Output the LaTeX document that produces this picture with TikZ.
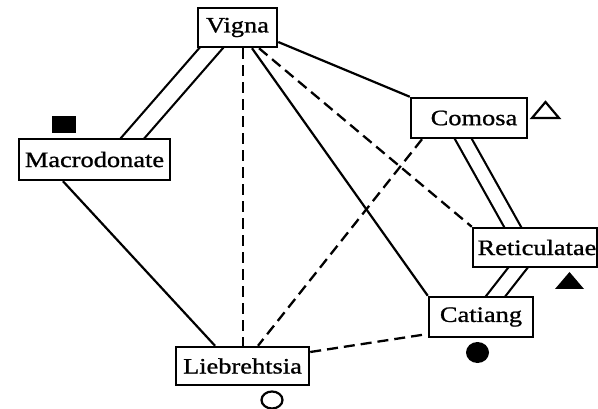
\documentclass[tikz,border=0pt]{standalone}
\usepackage{fontspec}
\setmainfont{Liberation Serif}[FakeStretch=1.2, FakeBold=1]
\usetikzlibrary{backgrounds}
\begin{document}
\begin{tikzpicture}[x=1pt,y=-1pt,
  box/.style={draw, line width=2.5pt, fill=white, inner sep=0pt,
    font=\fontsize{22}{26}\selectfont},
  solidedge/.style={line width=2.2pt},
  dashedge/.style={line width=2.3pt, dash pattern=on 11pt off 6pt},
  dbl/.style={line width=2.2pt, double=white, double distance=#1,
    shorten <=-10pt, shorten >=-10pt},
  symline/.style={line width=2.2pt}
]
\useasboundingbox (0,0) rectangle (598,409);

\node[box, minimum width=79pt,  minimum height=39pt] (V) at (237.5,27.5) {Vigna};
\node[box, minimum width=151pt, minimum height=41pt] (M) at (94.5,159.5) {Macrodonate};
\node[box, minimum width=116pt, minimum height=40pt] (C) at (469,118) {\hspace*{10pt}Comosa};
\node[box, minimum width=124pt, minimum height=39pt] (R) at (535,247.5) {\hspace*{4pt}Reticulatae};
\node[box, minimum width=104pt, minimum height=40pt] (T) at (481,317) {Catiang};
\node[box, minimum width=133pt, minimum height=38pt] (L) at (242.5,366) {Liebrehtsia};

\begin{scope}[on background layer]
  \fill[white] (0,0) rectangle (598,409);
  % double connectors
  \draw[dbl=15.5pt] ([xshift=-26.5pt]V.south) -- ([xshift=38.5pt]M.north);
  \draw[dbl=12.5pt] ([xshift=-5.5pt]C.south) -- ([xshift=-22.5pt]R.north);
  \draw[dbl=13pt] ([xshift=-17.5pt]R.south) -- ([xshift=15pt]T.north);
  % solid connectors
  \draw[solidedge] ([yshift=-14.5pt]V.east) -- (C.north west);
  \draw[solidedge] ([xshift=14.5pt]V.south) -- (T.north west);
  \draw[solidedge] ([xshift=-31.5pt]M.south) -- ([xshift=-27.5pt]L.north);
  % dashed connectors
  \draw[dashedge] ([xshift=5.5pt]V.south) -- ([xshift=0.5pt]L.north);
  \draw[dashedge] ([xshift=21.5pt]V.south) -- (R.north west);
  \draw[dashedge] ([xshift=-47pt]C.south) -- ([xshift=15.5pt]L.north);
  \draw[dashedge] ([yshift=14pt]L.east) -- ([yshift=-17pt]T.west);
\end{scope}

% group symbols
\fill (52,116) rectangle (76,133);
\draw[symline, line join=miter] (532,118) -- (559,118) -- (545.5,102) -- cycle;
\fill (555,289) -- (584,289) -- (569.5,272) -- cycle;
\fill (477.5,352.5) ellipse [x radius=11.5pt, y radius=10.5pt];
\draw[symline] (272,400) ellipse [x radius=10.5pt, y radius=8.5pt];
\end{tikzpicture}
\end{document}
